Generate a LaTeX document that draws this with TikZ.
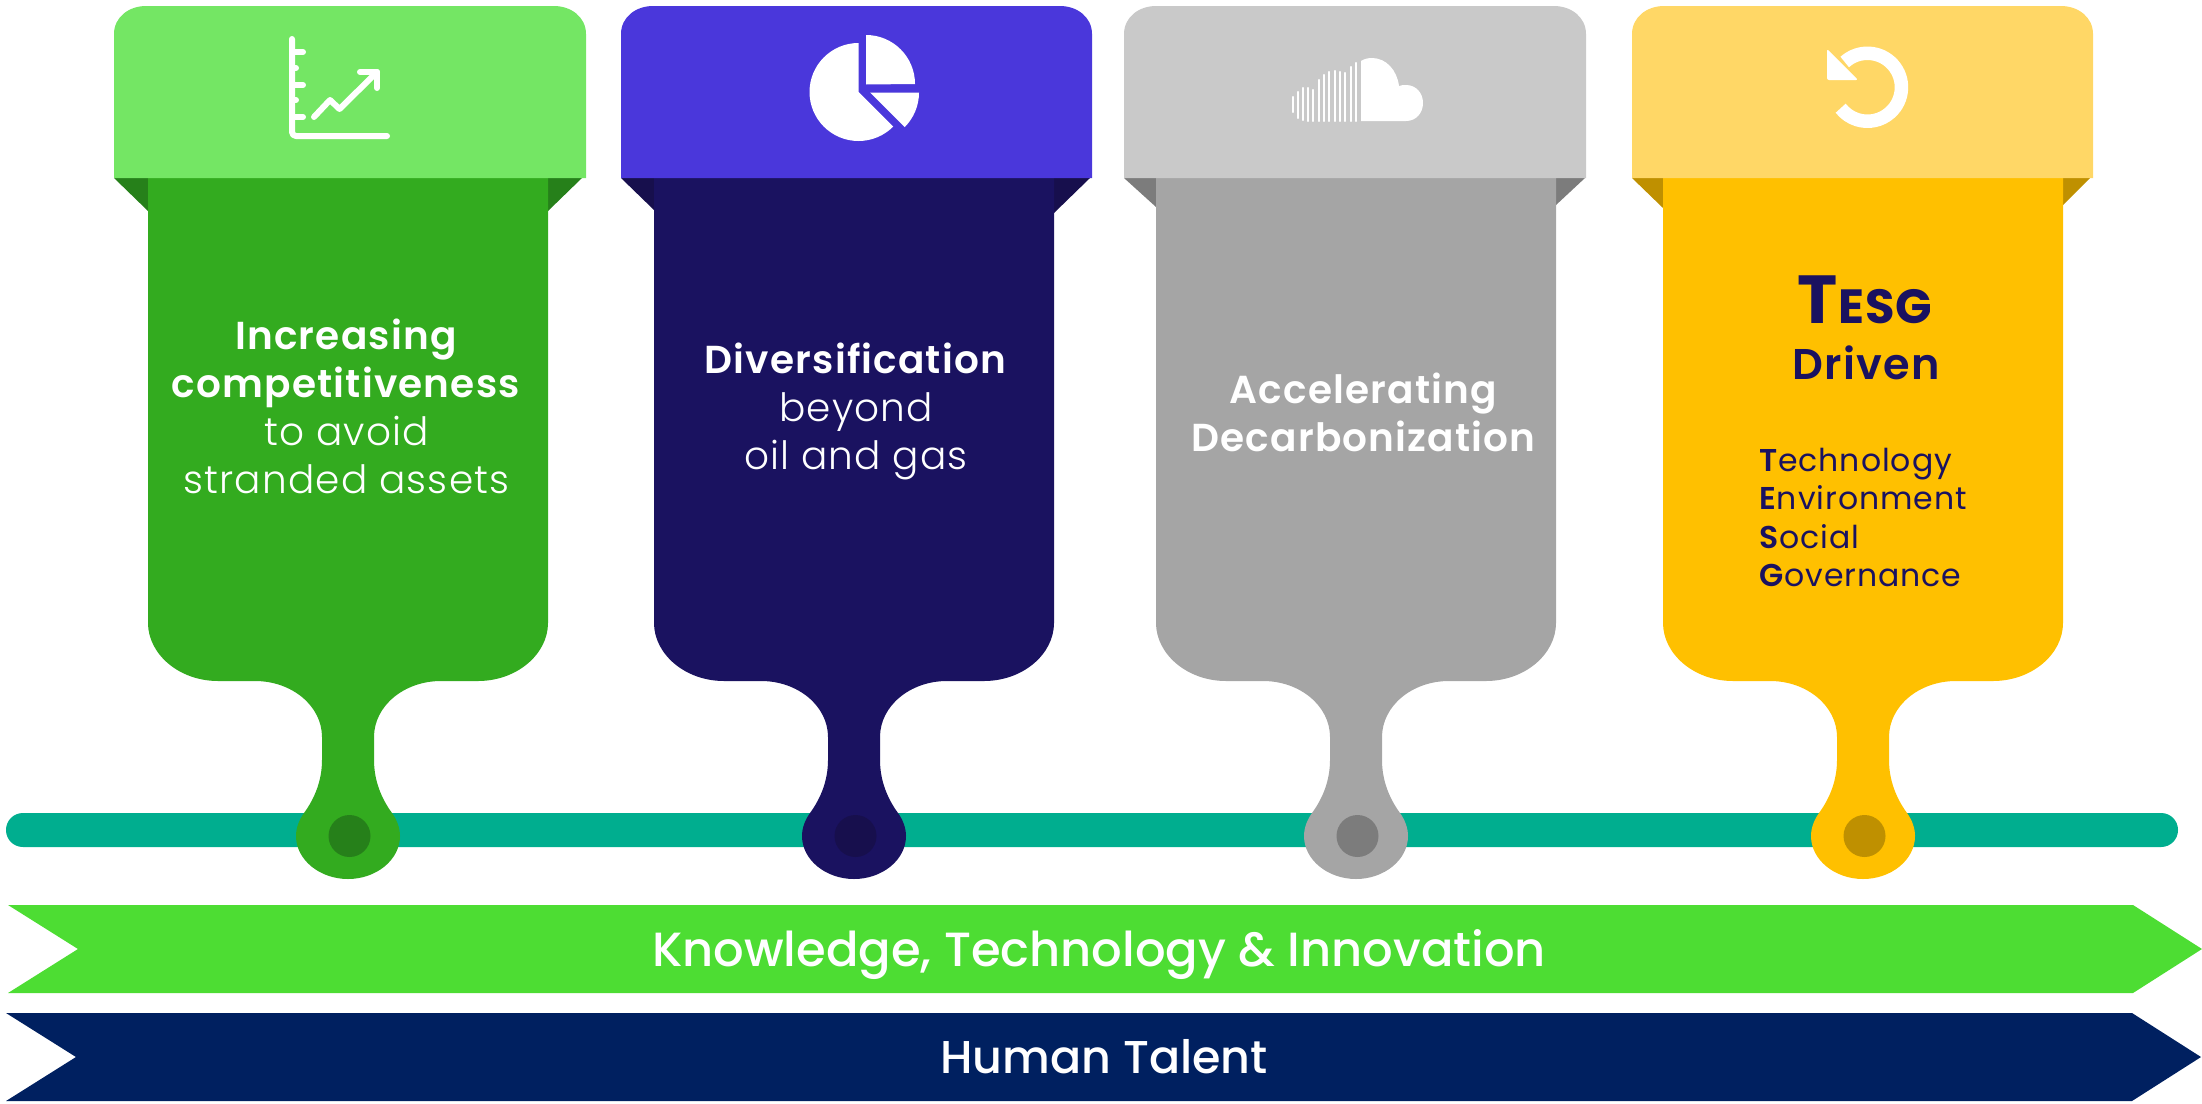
\documentclass[tikz,border=0pt]{standalone}
\usepackage{fontspec}
\setmainfont{Poppins}[BoldFont=* SemiBold,LetterSpace=3]
\newfontfamily\lgt{Poppins Light}[LetterSpace=3]
\newfontfamily\med{Poppins Medium}
\newfontfamily\bld{Poppins}[BoldFont=* Bold,LetterSpace=2]
\definecolor{gA}{HTML}{74E664}\definecolor{gB}{HTML}{33AB1F}\definecolor{gC}{HTML}{26801A}
\definecolor{bA}{HTML}{4A37DB}\definecolor{bB}{HTML}{1A1260}\definecolor{bC}{HTML}{170F4D}
\definecolor{yA}{HTML}{C9C9C9}\definecolor{yB}{HTML}{A5A5A5}\definecolor{yC}{HTML}{7C7C7C}
\definecolor{oA}{HTML}{FFD766}\definecolor{oB}{HTML}{FFC000}\definecolor{oC}{HTML}{BF9000}
\definecolor{teal}{HTML}{00AE8F}\definecolor{ribG}{HTML}{4DDD33}\definecolor{ribN}{HTML}{002060}
\tikzset{
  wtxt/.style={text=white,align=center,inner sep=0pt,font=\fontsize{39}{48}\selectfont},
  ntxt/.style={text=bB,inner sep=0pt},
  ribtxt/.style={text=white,inner sep=0pt,font=\med\fontsize{46}{50}\selectfont},
  icon/.style={draw=white,line cap=round,line join=round,line width=6pt},
  iconf/.style={fill=white,draw=none}
}
% #1 body centre, #2 header left, #3 header right, #4 light, #5 main, #6 dark, #7 left fold depth, #8 right fold tip, #9 right fold depth
\newcommand{\mycard}[9]{%
  \fill[#6] (#2,178) -- (#1-200,178) -- (#1-200,#7) -- cycle;
  \fill[#6] (#1+200,178) -- (#8,178) -- (#1+200,#9) -- cycle;
  \fill[#5] (#1-200,178) -- (#1-200,623)
    .. controls (#1-200,654) and (#1-169,681) .. (#1-130,681) -- (#1-93,681)
    .. controls (#1-56,681) and (#1-26,706) .. (#1-26,737) -- (#1-26,760)
    .. controls (#1-26,780) and (#1-33,798) .. (#1-44,813)
    .. controls (#1-49,820) and (#1-52,828) .. (#1-52,836)
    .. controls (#1-52,860) and (#1-28,879) .. (#1,879)
    .. controls (#1+28,879) and (#1+52,860) .. (#1+52,836)
    .. controls (#1+52,828) and (#1+49,820) .. (#1+44,813)
    .. controls (#1+33,798) and (#1+26,780) .. (#1+26,760) -- (#1+26,737)
    .. controls (#1+26,706) and (#1+56,681) .. (#1+93,681) -- (#1+130,681)
    .. controls (#1+169,681) and (#1+200,654) .. (#1+200,623) -- (#1+200,178) -- cycle;
  \fill[#6] (#1+1.5,836) circle[radius=21pt];
  \fill[#4] (#2,178) -- (#2,34) .. controls (#2,17) and (#2+15,6) .. (#2+32,6)
    -- (#3-32,6) .. controls (#3-15,6) and (#3,17) .. (#3,34) -- (#3,178) -- cycle;
}
\begin{document}
\begin{tikzpicture}[x=1pt,y=-1pt]
\useasboundingbox (0,0) rectangle (2202,1103);
% teal bar
\fill[teal,rounded corners=16.9pt] (6,813) rectangle (2178,847);
% cards
\mycard{348}{114}{586}{gA}{gB}{gC}{211}{582}{211}
\mycard{854}{621}{1092}{bA}{bB}{bC}{210}{1090}{213}
\mycard{1356}{1124}{1586}{yA}{yB}{yC}{207}{1585}{205}
\mycard{1863}{1632}{2093}{oA}{oB}{oC}{208}{2090}{205}
% ribbons
\fill[ribG] (8,905) -- (2133,905) -- (2202,949) -- (2133,993) -- (8,993) -- (78,949) -- cycle;
\fill[ribN] (6,1013) -- (2132,1013) -- (2201,1057) -- (2132,1101) -- (6,1101) -- (76,1057) -- cycle;
\node[ribtxt,font=\med\fontsize{48}{50}\selectfont] (ribk) at (1099,955) {Knowledge, Technology \& Innovation};
\node[ribtxt] (ribh) at (1104,1057) {Human Talent};
% icon 1: chart
\draw[icon,rounded corners=4pt] (292,39) -- (292,136) -- (387,136);
\draw[icon] (292,52) -- (303,52) (292,68) -- (296,68) (292,85) -- (303,85) (292,100) -- (296,100) (292,117) -- (303,117);
\draw[icon] (314,117) -- (330,100) -- (339.5,109) -- (377,72);
\draw[icon] (360,72) -- (377,72) -- (377,88);
% icon 2: pie
\fill[white] (858.5,92) -- (858.5,43) arc[start angle=90,delta angle=225,radius=49pt] -- cycle;
\fill[white] (866,84.5) -- (866,35) arc[start angle=90,delta angle=-90,radius=49pt] -- cycle;
\fill[white] (870,92.5) -- (919,92.5) arc[start angle=0,delta angle=-45,radius=49pt] -- cycle;
% icon 3: cloud
\fill[white] (1361,61) .. controls (1364,59) and (1368,58) .. (1372,58)
  .. controls (1386,58) and (1397,70) .. (1399,86)
  .. controls (1401,85) and (1404,85) .. (1406,85)
  .. controls (1416,85) and (1423,93) .. (1423,103)
  .. controls (1423,113) and (1416,121) .. (1406,121) -- (1361,121) -- cycle;
\foreach \bx/\bt/\bb in {1293/97/112,1298/92/118,1303/88/120,1308/88/121,1313/90/121,1319/80/121,1324/75/121,1329/72/121,1335/71/121,1340/72/121,1345/73/121,1351/67/121,1356/63/121}
  \draw[white,line width=2.4pt,line cap=round] (\bx,\bt) -- (\bx,\bb);
% icon 4: rotate
\draw[white,line width=13.5pt] (1844.7,62) arc[start angle=132,delta angle=-274,radius=34pt];
\fill[white,rounded corners=2pt] (1827,49) -- (1827,80) -- (1858,80) -- cycle;
% card texts
\node[wtxt] (t1) at (346.5,406) {\textbf{Increasing}\\\textbf{competitiveness}\\{\lgt to avoid}\\{\lgt stranded assets}};
\node[wtxt] (t2) at (856,411) {\textbf{Diversification}\\{\lgt beyond}\\{\lgt oil and gas}};
\node[wtxt] (t3) at (1364,412) {\textbf{Accelerating}\\\textbf{Decarbonization}};
\node[ntxt,anchor=base] (t4a) at (1865,323) {\bld\bfseries\fontsize{68}{70}\selectfont T\fontsize{48}{50}\selectfont ESG};
\node[ntxt,anchor=base] (t4b) at (1866,379) {\bfseries\fontsize{43}{46}\selectfont Driven};
\node[ntxt,anchor=base west] (t4c) at (1759,471) {\fontsize{31.5}{38}\selectfont\textbf{T}echnology};
\node[ntxt,anchor=base west] (t4d) at (1759,509) {\fontsize{31.5}{38}\selectfont\textbf{E}nvironment};
\node[ntxt,anchor=base west] (t4e) at (1759,548) {\fontsize{31.5}{38}\selectfont\textbf{S}ocial};
\node[ntxt,anchor=base west] (t4f) at (1759,586) {\fontsize{31.5}{38}\selectfont\textbf{G}overnance};
\end{tikzpicture}
\end{document}
